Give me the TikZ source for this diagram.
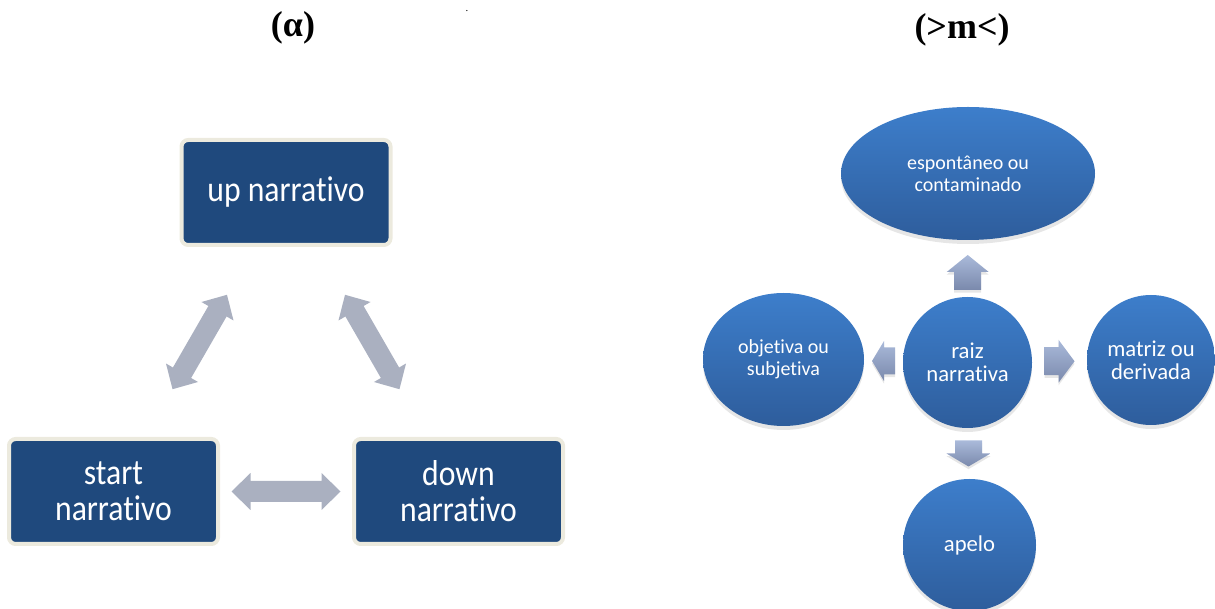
\documentclass[tikz,border=0pt]{standalone}
\usepackage{fontspec}
\newfontfamily\labelfont[Ligatures=NoCommon]{Carlito}
\newfontfamily\boxfont[Ligatures=NoCommon, FakeStretch=0.88]{Carlito}
\newfontfamily\headfont{Liberation Serif}
\usetikzlibrary{calc,shapes.geometric,shadows}
\definecolor{boxblue}{RGB}{31,73,125}
\definecolor{boxrim}{RGB}{236,234,222}
\definecolor{linkgray}{RGB}{170,176,192}
\definecolor{orbtop}{RGB}{61,126,203}
\definecolor{orbbottom}{RGB}{46,93,156}
\definecolor{spoketop}{RGB}{170,186,218}
\definecolor{spokebottom}{RGB}{122,137,172}
\begin{document}
\begin{tikzpicture}[x=0.75pt,y=-0.75pt,
  stage/.style={rectangle, rounded corners=5pt, fill=boxblue, draw=boxrim,
    line width=3pt, minimum width=156.75pt, minimum height=78.75pt,
    inner sep=0pt, outer sep=0pt, text=white, align=center,
    font=\boxfont\fontsize{27}{27}\selectfont},
  orb/.style={ellipse, inner sep=0pt, outer sep=0pt, text=white, align=center,
    top color=orbtop, bottom color=orbbottom,
    drop shadow={shadow xshift=0pt, shadow yshift=-3pt, opacity=0.2}},
  smalltext/.style={font=\labelfont\fontsize{15}{16.5}\selectfont},
  largetext/.style={font=\labelfont\fontsize{17}{17.25}\selectfont},
  heading/.style={font=\headfont\bfseries\fontsize{27}{30}\selectfont, inner sep=0pt},
  link/.style={fill=linkgray},
  spoke/.style={top color=spoketop, bottom color=spokebottom,
    drop shadow={shadow xshift=0pt, shadow yshift=-2pt, opacity=0.2}},
  % grey two-headed arrow, pointing along local x
  pics/dblarrow/.style={code={
    \fill[link] (-54.5,0) -- (-35.5,-18.5) -- (-35.5,-10.5) -- (35.5,-10.5)
      -- (35.5,-18.5) -- (54.5,0) -- (35.5,18.5) -- (35.5,10.5)
      -- (-35.5,10.5) -- (-35.5,18.5) -- cycle;}},
  % block arrows: #1 length, #2 head length, #3 head half-width, #4 shaft half-width
  pics/spokeR/.style n args={4}{code={
    \path[spoke] (-#1/2,-#4) -- (#1/2-#2,-#4) -- (#1/2-#2,-#3) -- (#1/2,0)
      -- (#1/2-#2,#3) -- (#1/2-#2,#4) -- (-#1/2,#4) -- cycle;}},
  pics/spokeL/.style n args={4}{code={
    \path[spoke] (#1/2,-#4) -- (-#1/2+#2,-#4) -- (-#1/2+#2,-#3) -- (-#1/2,0)
      -- (-#1/2+#2,#3) -- (-#1/2+#2,#4) -- (#1/2,#4) -- cycle;}},
  pics/spokeU/.style n args={4}{code={
    \path[spoke] (-#4,#1/2) -- (-#4,-#1/2+#2) -- (-#3,-#1/2+#2) -- (0,-#1/2)
      -- (#3,-#1/2+#2) -- (#4,-#1/2+#2) -- (#4,#1/2) -- cycle;}},
  pics/spokeD/.style n args={4}{code={
    \path[spoke] (-#4,-#1/2) -- (-#4,#1/2-#2) -- (-#3,#1/2-#2) -- (0,#1/2)
      -- (#3,#1/2-#2) -- (#4,#1/2-#2) -- (#4,-#1/2) -- cycle;}}
]
\useasboundingbox (0,0) rectangle (1215,609);

% headings
\node[heading] (headA) at (293,28) {(α)};
\node[heading] (headB) at (962,30) {(>m<)};
\node[font=\headfont\fontsize{8}{8}\selectfont, inner sep=0pt] (speck) at (467,11) {.};

% left cycle
\node[stage] (up) at (286,192.5) {up narrativo};
\node[stage] (start) at (113.5,491.5) {start\\narrativo};
\node[stage] (down) at (458.5,491.5) {down\\narrativo};

\path let \p1=($(up)-(start)$), \n1={atan2(\y1,\x1)} in
  ($(start)!0.5!(up)$) pic[rotate=\n1] {dblarrow};
\path let \p1=($(down)-(up)$), \n1={atan2(\y1,\x1)} in
  ($(up)!0.5!(down)$) pic[rotate=\n1] {dblarrow};
\path ($(start)!0.5!(down)$) pic {dblarrow};

% radial diagram
\node[orb, smalltext, minimum width=190.5pt, minimum height=99.75pt] (top) at (968,173.5) {espontâneo ou\\contaminado};
\node[orb, smalltext, minimum width=120.75pt, minimum height=99.75pt] (obj) at (783.5,359.5) {objetiva ou\\subjetiva};
\node[orb, largetext, minimum width=96.75pt, minimum height=98.25pt] (raiz) at (967.5,362.5) {raiz\\narrativa};
\node[orb, largetext, minimum width=96pt, minimum height=97.5pt] (mat) at (1151,360) {matriz ou\\derivada};
\node[orb, largetext, minimum width=99.75pt, minimum height=99pt] (apelo) at (969.5,545) {apelo};

\path ($(raiz.north)!0.43!(top.south)$) pic {spokeU={35}{17}{21}{13.5}};
\path ($(raiz.west)!0.5!(obj.east)$) pic {spokeL={23}{12}{20}{13.5}};
\path ($(raiz.east)!0.5!(mat.west)$) pic {spokeR={30}{16}{21.5}{14}};
\path ($(raiz.south)!0.5!(apelo.north)$) pic {spokeD={26}{13}{22}{13.5}};
\end{tikzpicture}
\end{document}
